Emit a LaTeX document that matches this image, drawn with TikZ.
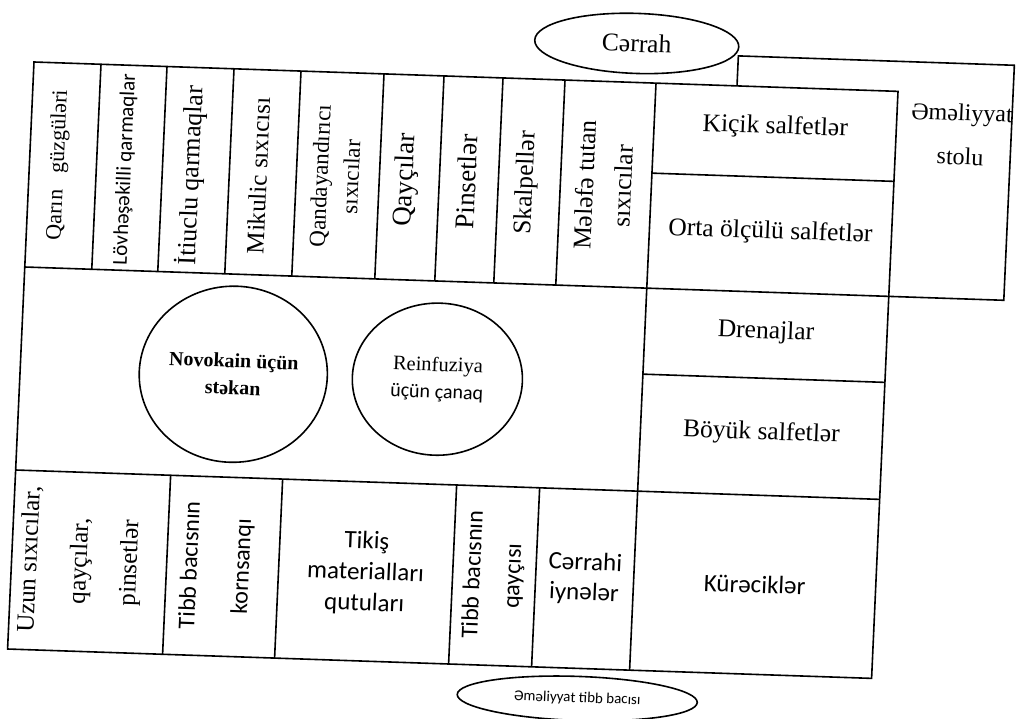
\documentclass[tikz,border=0pt]{standalone}
\usepackage{fontspec}
\setmainfont{Liberation Serif}
\newfontfamily\sansf{Carlito}
\usetikzlibrary{shapes.geometric}
\begin{document}
\begin{tikzpicture}[x=1pt,y=-1pt,line width=1.6pt,
  lab/.style={transform shape,inner sep=0pt,align=center},
  vlab/.style={lab,rotate=90},
  rm/.style 2 args={font=\fontsize{#1}{#2}\selectfont},
  sf/.style 2 args={font=\sansf\fontsize{#1}{#2}\selectfont},
  oval/.style={draw,ellipse,transform shape,inner sep=0pt,align=center}]
\path[fill=white] (0,0) rectangle (1016,719);
\useasboundingbox (0,0) rectangle (1016,719);
\begin{scope}[cm={1,-0.034,0.045,1,(34pt,-62pt)}]
% operating table (behind)
\draw (864,205) -- (979,205) -- (979,-30) -- (703,-30) -- (703,0);
% main instrument table
\draw (0,0) rectangle (864,587);
\draw (0,205) -- (864,205);
\draw (0,408) -- (864,408);
\draw (622,90) -- (864,90);
\draw (622,291) -- (864,291);
\draw (622,0) -- (622,587);
\foreach \u in {67,133,200,267,350,410,469,531} \draw (\u,0) -- (\u,205);
\foreach \u in {155,267,441,524} \draw (\u,408) -- (\u,587);
% top row labels
\node[vlab,rm={22}{26}] (t1) at (29,102) {Qarın\hspace{0.5em} güzgüləri};
\node[vlab,sf={21}{24}] (t2) at (96,104) {Lövhəşəkilli qarmaqlar};
\node[vlab,rm={26}{30}] (t3) at (162,108) {İtiuclu qarmaqlar};
\node[vlab,rm={25}{30}] (t4) at (229,106) {Mikulic sıxıcısı};
\node[vlab,rm={23}{31}] (t5) at (306,104) {Qandayandırıcı\\sıxıcılar};
\node[vlab,rm={27}{30}] (t6) at (377,105) {Qayçılar};
\node[vlab,rm={27}{30}] (t7) at (437,105) {Pinsetlər};
\node[vlab,rm={25.5}{30}] (t8) at (497,104) {Skalpellər};
\node[vlab,rm={25.5}{38}] (t9) at (574,104) {Mələfə tutan\\sıxıcılar};
% right column labels
\node[lab,rm={25.5}{30}] (r1) at (743,40) {Kiçik salfetlər};
\node[lab,rm={25.5}{30}] (r2) at (743,145) {Orta ölçülü salfetlər};
\node[lab,rm={25.5}{30}] (r3) at (743,245) {Drenajlar};
\node[lab,rm={25.5}{30}] (r4) at (743,346) {Böyük salfetlər};
\node[lab,sf={25}{30}] (r5) at (743,497) {Kürəciklər};
\node[lab,rm={24}{44}] (tbl) at (929,41) {Əməliyyat\\stolu};
% circles
\node[oval,minimum width=188pt,minimum height=176pt,
  font=\fontsize{20}{27}\selectfont\bfseries] (c1) at (213,305)
  {Novokain üçün\\stəkan};
\node[oval,minimum width=170pt,minimum height=152pt,
  font=\fontsize{20.5}{27}\selectfont] (c2) at (417,303)
  {Reinfuziya\\{\sansf\fontsize{20}{27}\selectfont üçün çanaq}};
% bottom row labels
\node[vlab,rm={25}{50}] (b1) at (69,497) {Uzun sıxıcılar,\\qayçılar,\\pinsetlər};
\node[vlab,sf={24}{52}] (b2) at (205,497) {Tibb bacısnın\\kornsanqı};
\node[lab,sf={25}{31}] (b3) at (354,499) {Tikiş\\materialları\\qutuları};
\node[vlab,sf={24}{40}] (b4) at (482,497) {Tibb bacısnın\\qayçısı};
\node[lab,sf={25}{30}] (b5) at (573,497) {Cərrahi\\iynələr};
% people
\node[oval,minimum width=204pt,minimum height=60pt,rm={25.5}{30}] (surgeon) at (601,-39) {Cərrah};
\node[oval,minimum width=240pt,minimum height=44pt,sf={15}{18}] (nurse) at (571,617) {Əməliyyat tibb bacısı};
\end{scope}
\end{tikzpicture}
\end{document}
